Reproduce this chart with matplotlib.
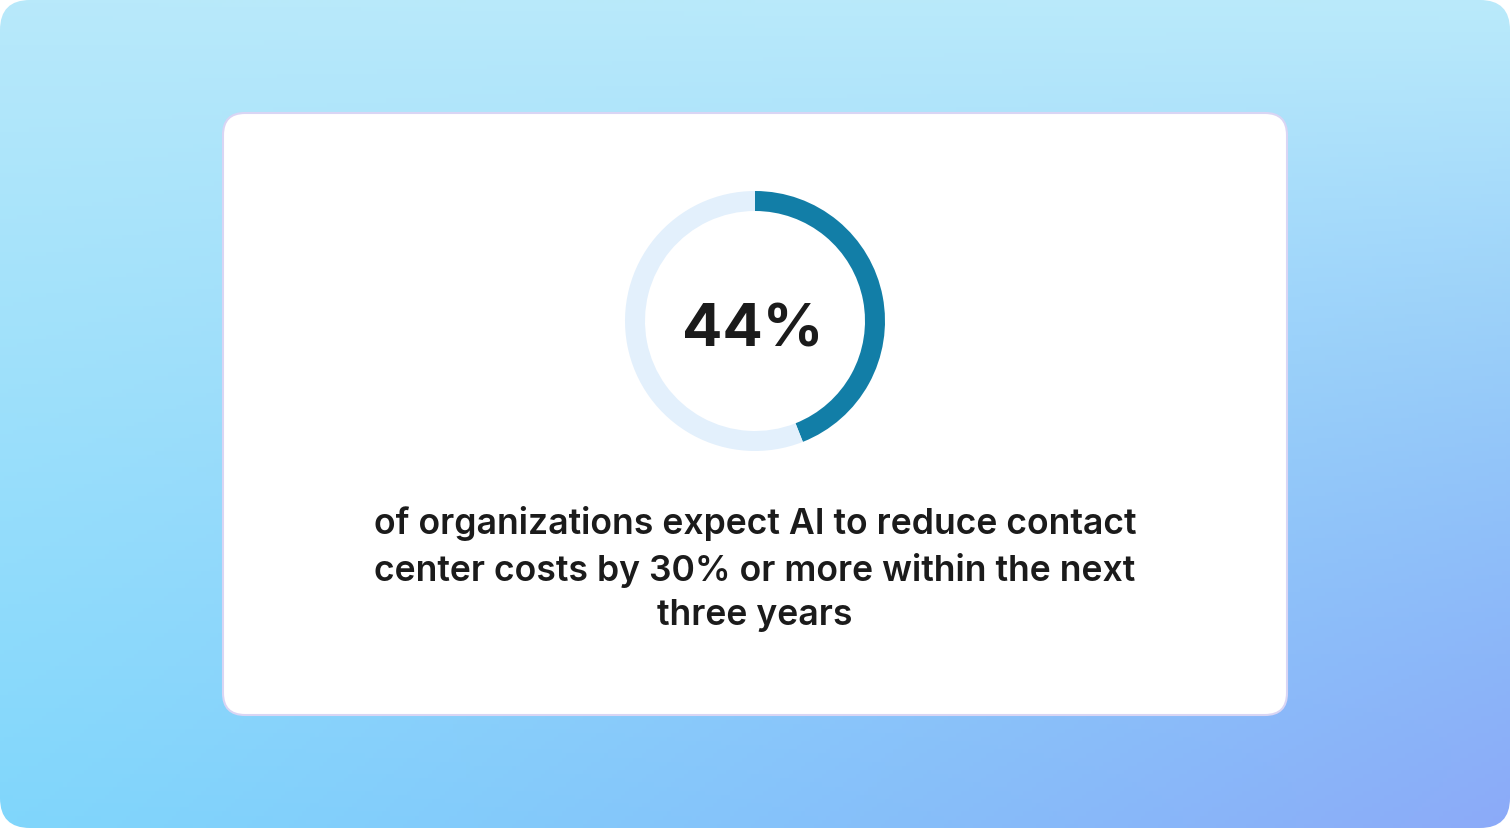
import matplotlib
matplotlib.use("Agg")
import matplotlib.pyplot as plt
from matplotlib.patches import FancyBboxPatch
import numpy as np

# data
share_pct = 44
values = [share_pct, 100 - share_pct]
ring_colors = ["#127ea7", "#e3f0fc"]
big_label = f"{share_pct}%"
caption = ("of organizations expect AI to reduce contact\n"
           "center costs by 30% or more within the next\n"
           "three years")

W, H = 1510, 828
fig = plt.figure(figsize=(W / 100, (H + 0.01) / 100), dpi=100)
fig.patch.set_facecolor("white")
ax = fig.add_axes([0, 0, 1, 1])

# background gradient (bilinear between corner colours, purple only near bottom-right)
tl = np.array([184, 233, 250]) / 255
tr = np.array([186, 234, 250]) / 255
bl = np.array([128, 214, 252]) / 255
br = np.array([140, 170, 248]) / 255
yy, xx = np.mgrid[0:1:200j, 0:1:360j]
base = ((1 - yy)[..., None] * ((1 - xx)[..., None] * tl + xx[..., None] * tr)
        + yy[..., None] * ((1 - xx)[..., None] * bl + xx[..., None] * bl))
wbr = ((xx * yy) ** 1.2)[..., None]
grad = base * (1 - wbr) + br * wbr
img = ax.imshow(grad, extent=(0, W, 0, H), origin="upper", zorder=0, aspect="auto")
clip = FancyBboxPatch((0, 0), W, H, boxstyle="round,pad=0,rounding_size=30",
                      facecolor="none", edgecolor="none")
ax.add_patch(clip)
img.set_clip_path(clip)

# white card
card = FancyBboxPatch((223, H - 715), 1287 - 223, 715 - 113,
                      boxstyle="round,pad=0,rounding_size=22",
                      facecolor="white", edgecolor="#d9d5f4", linewidth=1.5, zorder=1)
ax.add_patch(card)

# donut ring
cx, cy = 755, H - 321
wedges, _ = ax.pie(values, colors=ring_colors, radius=130, center=(cx, cy),
                   startangle=90, counterclock=False,
                   wedgeprops=dict(width=20, linewidth=0))
for w in wedges:
    w.set_zorder(2)

ax.text(cx - 2, cy - 10, big_label, ha="center", va="center", fontsize=43,
        fontweight="bold", family="Inter", color="#1b1b1b", zorder=3)

ax.text(755, H - 569, caption, ha="center", va="center", fontsize=25.6,
        fontweight="semibold", family="Inter", color="#1b1b1b",
        linespacing=1.42, zorder=3)

ax.set_xlim(0, W)
ax.set_ylim(0, H)
ax.set_aspect("auto")
ax.axis("off")

fig.savefig("out.png", dpi=100, facecolor="white")
